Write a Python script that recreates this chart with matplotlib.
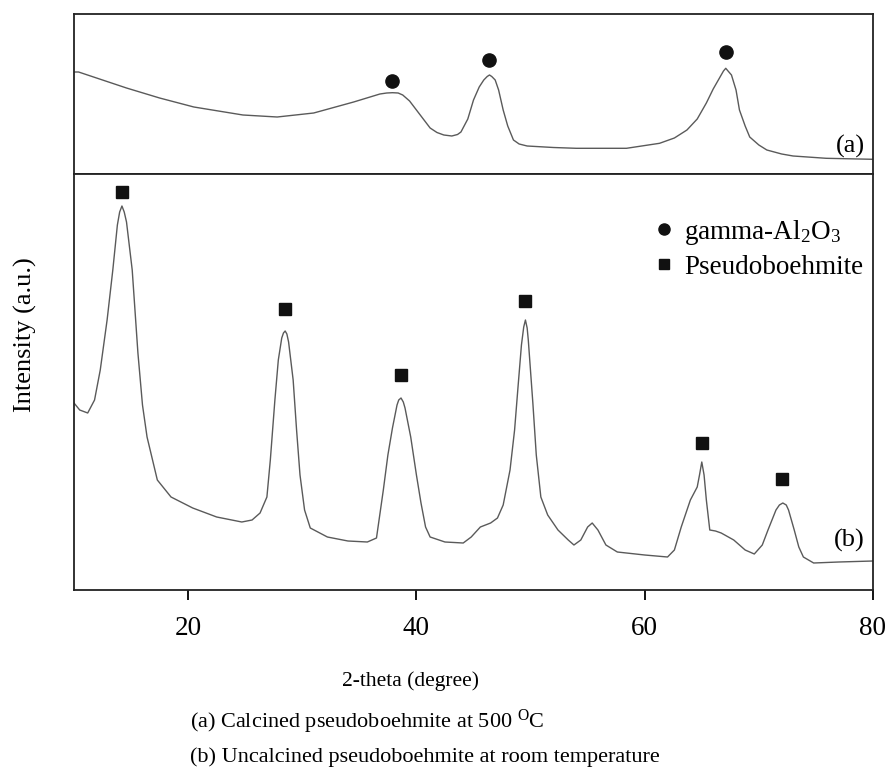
import matplotlib
matplotlib.use("Agg")
import matplotlib.pyplot as plt
from matplotlib.lines import Line2D

plt.rcParams['font.family'] = ['Liberation Serif', 'DejaVu Serif']
plt.rcParams['mathtext.fontset'] = 'custom'
plt.rcParams['mathtext.rm'] = 'Liberation Serif'
plt.rcParams['mathtext.it'] = 'Liberation Serif:italic'

# (a) calcined sample (2-theta, intensity a.u.)
tt_a = [10.0, 10.4, 12.5, 14.6, 17.5, 20.5, 24.8, 27.8, 31.0, 34.5, 36.8, 37.4,
        37.9, 38.4, 38.8, 39.4, 40.0, 40.6, 41.2, 41.8, 42.4, 43.1, 43.6, 43.9,
        44.5, 45.0, 45.5, 45.9, 46.2, 46.4, 46.6, 46.9, 47.2, 47.6, 48.0, 48.5,
        49.0, 49.7, 52.0, 54.0, 58.4, 61.3, 62.6, 63.7, 64.6, 65.4, 66.0, 66.6,
        66.9, 67.1, 67.3, 67.6, 68.0, 68.3, 68.8, 69.2, 70.0, 70.7, 72.0, 73.0,
        75.9, 80.0]
int_a = [102, 102, 94, 86, 76, 67, 59, 57, 61, 72, 80, 81,
         81.3, 81, 79, 73, 64, 55, 46, 41.5, 39, 38, 39.5, 42,
         55, 74, 87, 94, 97.5, 99, 97.5, 94, 84, 64, 48, 34,
         30, 28, 26.5, 25.7, 25.7, 30.7, 36, 44, 55, 71, 85, 97,
         103, 105.7, 103, 99, 84, 64, 48, 37, 29, 24, 20, 18,
         15.7, 14.7]

# (b) uncalcined sample
tt_b = [10.0, 10.5, 11.2, 11.8, 12.3, 12.9, 13.4, 13.8, 14.0, 14.2, 14.4, 14.6,
        15.1, 15.6, 16.0, 16.4, 17.3, 18.5, 20.4, 22.5, 24.7, 25.6, 26.3, 26.9,
        27.2, 27.6, 27.9, 28.2, 28.35, 28.5, 28.65, 28.8, 29.2, 29.5, 29.8, 30.2,
        30.7, 32.2, 34.0, 35.7, 36.5, 37.1, 37.5, 37.9, 38.3, 38.45, 38.65, 38.85,
        39.0, 39.5, 40.0, 40.4, 40.8, 41.2, 42.5, 44.1, 44.8, 45.6, 46.5, 47.1,
        47.6, 48.2, 48.6, 48.9, 49.2, 49.4, 49.55, 49.7, 49.8, 50.2, 50.5, 50.9,
        51.5, 52.4, 53.3, 53.8, 54.4, 55.0, 55.4, 55.9, 56.6, 57.6, 60.0, 62.0,
        62.6, 63.2, 64.0, 64.6, 64.8, 65.0, 65.2, 65.4, 65.7, 66.2, 66.7, 67.8,
        68.8, 69.6, 70.3, 70.8, 71.5, 71.8, 72.1, 72.4, 72.6, 73.1, 73.5, 73.9,
        74.8, 77.0, 80.0]
int_b = [187, 180, 177, 190, 220, 270, 320, 365, 378, 384, 378, 368,
         320, 237, 185, 153, 110, 93, 82, 73, 68, 70, 77, 93,
         130, 190, 230, 252, 257, 259, 256, 248, 210, 160, 115, 80,
         62, 53, 49, 48, 52, 100, 135, 162, 185, 190, 192, 188,
         182, 153, 115, 87, 63, 53, 48, 47, 53, 63, 67, 72,
         85, 120, 160, 203, 245, 263, 270, 262, 250, 187, 135, 93,
         75, 60, 50, 45, 50, 63, 67, 60, 45, 38, 35, 33,
         40, 63, 90, 103, 115, 128, 115, 90, 60, 59, 57, 50,
         40, 36, 45, 60, 80, 85, 87, 85, 80, 60, 43, 33,
         27, 28, 29]

# phase markers
gamma_tt = [37.9, 46.4, 67.1]
gamma_int = [93, 114, 122]
boeh_tt = [14.2, 28.5, 38.65, 49.5, 65.05, 72.05]
boeh_int = [398, 281, 215, 289, 147, 111]

xticks = [20, 40, 60, 80]

W, H = 886, 776
fig = plt.figure(figsize=(W / 100, H / 100), dpi=100)
x0 = 74 / W
w = 799 / W
ax_a = fig.add_axes([x0, 1 - 174 / H, w, 160 / H])
ax_b = fig.add_axes([x0, 1 - 590 / H, w, 416 / H])

lc = '#5a5a5a'
ax_a.plot(tt_a, int_a, color=lc, lw=1.0)
ax_a.plot(gamma_tt, gamma_int, 'o', color='#111111', ms=9.5)
ax_b.plot(tt_b, int_b, color=lc, lw=1.0)
ax_b.plot(boeh_tt, boeh_int, 's', color='#111111', ms=8.5)

ax_a.set_xlim(10, 80)
ax_a.set_ylim(0, 160)
ax_b.set_xlim(10, 80)
ax_b.set_ylim(0, 416)

for ax in (ax_a, ax_b):
  for s in ax.spines.values():
    s.set_linewidth(1.3)
    s.set_color('#222222')
  ax.set_yticks([])
ax_a.set_xticks([])
ax_b.set_xticks(xticks)
ax_b.tick_params(axis='x', direction='out', length=7, width=1.3, pad=12, labelsize=19.5)

ax_a.text(0.99, 0.17, '(a)', transform=ax_a.transAxes, ha='right', va='center', fontsize=19)
ax_b.text(0.99, 0.12, '(b)', transform=ax_b.transAxes, ha='right', va='center', fontsize=19)

handles = [Line2D([], [], marker='o', ls='none', color='#111111', ms=8),
           Line2D([], [], marker='s', ls='none', color='#111111', ms=7)]
ax_b.legend(handles, [r'gamma-Al$_2$O$_3$', 'Pseudoboehmite'], loc='upper left',
            bbox_to_anchor=(0.728, 0.895), frameon=False, fontsize=19.5,
            handlelength=0.6, handletextpad=0.45, labelspacing=0.3,
            borderpad=0, borderaxespad=0)

fig.text(25 / W, 1 - 335 / H, 'Intensity (a.u.)', rotation=90, ha='center', va='center', fontsize=19)
fig.text(410 / W, 1 - 681 / H, '2-theta (degree)', ha='center', va='center', fontsize=15.5)
fig.text(190 / W, 1 - 722 / H, r'(a) Calcined pseudoboehmite at 500 $^{\mathrm{O}}$C', ha='left', va='center', fontsize=16)
fig.text(190 / W, 1 - 757 / H, '(b) Uncalcined pseudoboehmite at room temperature', ha='left', va='center', fontsize=16)

fig.savefig('out.png', dpi=100)
